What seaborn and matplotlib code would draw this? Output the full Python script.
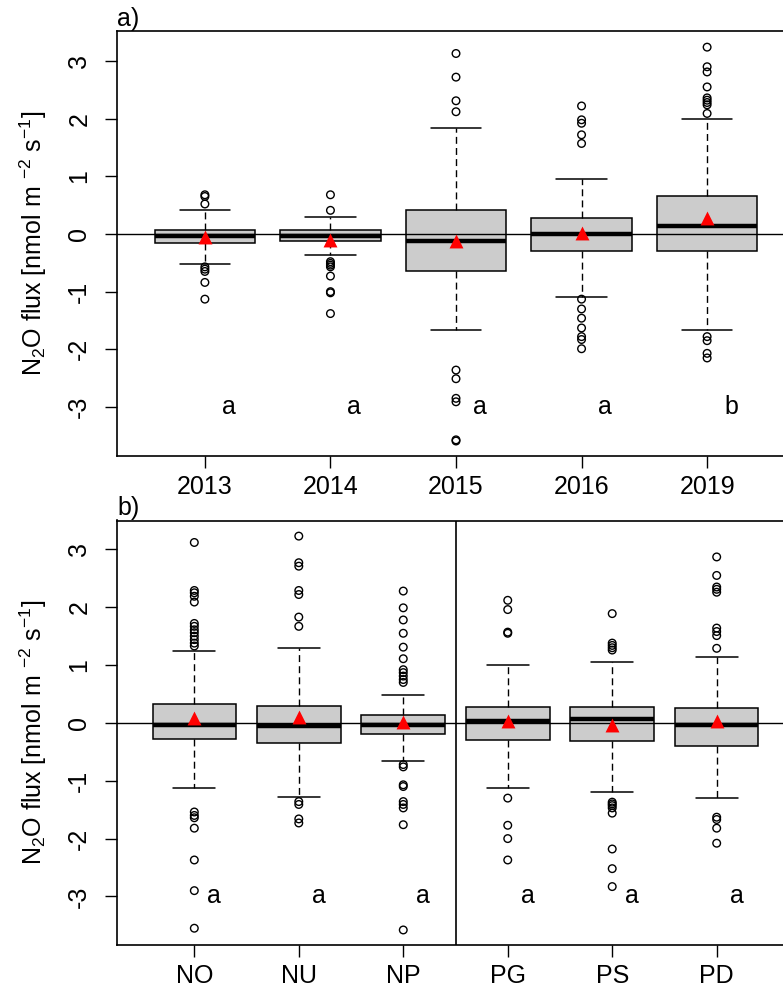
import matplotlib
matplotlib.use("Agg")
import matplotlib.pyplot as plt
import pandas as pd
import seaborn as sns

# panel a) - years
years = ["2013", "2014", "2015", "2016", "2019"]
year_q1 = [-0.16, -0.13, -0.65, -0.29, -0.29]
year_med = [-0.04, -0.03, -0.13, 0.00, 0.14]
year_q3 = [0.07, 0.07, 0.41, 0.27, 0.66]
year_wlo = [-0.525, -0.36, -1.66, -1.10, -1.66]
year_whi = [0.41, 0.30, 1.84, 0.95, 1.99]
year_mean = [-0.05, -0.10, -0.12, 0.01, 0.27]
year_letters = ["a", "a", "a", "a", "b"]
year_out = [
    [0.68, 0.65, 0.52, -0.57, -0.61, -0.65, -0.84, -1.13],
    [0.68, 0.41, -0.48, -0.51, -0.54, -0.57, -0.73, -1.00, -1.02, -1.38],
    [3.13, 2.72, 2.31, 2.12, -2.36, -2.51, -2.85, -2.91, -3.57, -3.59],
    [2.22, 1.98, 1.92, 1.72, 1.57, -1.13, -1.30, -1.46, -1.63, -1.78, -1.83, -1.99],
    [3.24, 2.90, 2.81, 2.55, 2.36, 2.32, 2.28, 2.24, 2.09, -1.78, -1.85, -2.07, -2.15],
]

# panel b) - treatments
treats = ["NO", "NU", "NP", "PG", "PS", "PD"]
tr_q1 = [-0.27, -0.35, -0.19, -0.29, -0.32, -0.40]
tr_med = [-0.04, -0.05, -0.04, 0.03, 0.07, -0.04]
tr_q3 = [0.33, 0.30, 0.14, 0.28, 0.28, 0.25]
tr_wlo = [-1.12, -1.28, -0.65, -1.12, -1.19, -1.30]
tr_whi = [1.24, 1.29, 0.49, 1.01, 1.06, 1.14]
tr_mean = [0.08, 0.11, 0.01, 0.04, -0.03, 0.03]
tr_letters = ["a", "a", "a", "a", "a", "a"]
tr_out = [
    [3.12, 2.29, 2.25, 2.19, 2.09, 1.72, 1.67, 1.61, 1.56, 1.50, 1.44, 1.38, 1.33,
     -1.54, -1.60, -1.64, -1.82, -2.37, -2.90, -3.55],
    [3.23, 2.77, 2.71, 2.29, 2.22, 1.83, 1.67, -1.36, -1.41, -1.66, -1.73],
    [2.28, 1.99, 1.78, 1.55, 1.31, 1.11, 0.92, 0.87, 0.81, 0.75, 0.70,
     -0.72, -0.76, -1.07, -1.10, -1.36, -1.41, -1.47, -1.76, -3.58],
    [2.12, 1.96, 1.57, 1.55, -1.30, -1.77, -2.00, -2.37],
    [1.89, 1.38, 1.34, 1.30, 1.26, -1.37, -1.40, -1.43, -1.47, -1.56, -2.18, -2.52, -2.83],
    [2.87, 2.55, 2.35, 2.31, 2.26, 1.64, 1.58, 1.51, 1.29, -1.63, -1.67, -1.82, -2.08],
]

sns.set_style("ticks")
plt.rcParams["font.family"] = ["Liberation Sans", "DejaVu Sans"]
plt.rcParams["mathtext.fontset"] = "custom"
plt.rcParams["mathtext.rm"] = "Liberation Sans"
plt.rcParams["mathtext.it"] = "Liberation Sans:italic"
plt.rcParams["mathtext.default"] = "rm"
for key in ["text.color", "axes.labelcolor", "xtick.color", "ytick.color", "axes.edgecolor"]:
    plt.rcParams[key] = "black"

FS = 18
W, H = 783, 993
fig = plt.figure(figsize=(W / 100, H / 100), dpi=100)
ax_a = fig.add_axes([117 / W, 1 - 456 / H, 678 / W, 425 / H])
ax_b = fig.add_axes([117 / W, 1 - 945 / H, 677 / W, 424.5 / H])


def draw_panel(ax, labels, q1, med, q3, wlo, whi, means, outs, letters):
    n = len(labels)
    stats = [dict(q1=q1[i], med=med[i], q3=q3[i], whislo=wlo[i], whishi=whi[i], fliers=[])
             for i in range(n)]
    ax.bxp(stats, positions=range(n), widths=0.8, capwidths=0.4, patch_artist=True,
           showfliers=False,
           boxprops=dict(facecolor="#cccccc", edgecolor="black", linewidth=1.1),
           medianprops=dict(color="black", linewidth=3.2, solid_capstyle="butt"),
           whiskerprops=dict(color="black", linewidth=1.0, linestyle=(0, (5, 3))),
           capprops=dict(color="black", linewidth=1.1))
    ax.axhline(0, color="black", linewidth=1.0, zorder=3)

    out_df = pd.DataFrame([(i, v) for i, vals in enumerate(outs) for v in vals],
                          columns=["pos", "value"])
    sns.scatterplot(data=out_df, x="pos", y="value", ax=ax, marker="o", s=30,
                    color="none", edgecolor="black", linewidth=1.0, zorder=4)
    mean_df = pd.DataFrame({"pos": range(n), "value": means})
    sns.scatterplot(data=mean_df, x="pos", y="value", ax=ax, marker="^", s=100,
                    color="red", edgecolor="red", linewidth=0, zorder=5)
    for i, letter in enumerate(letters):
        ax.text(i + 0.19, -3.0, letter, ha="center", va="center", fontsize=FS)

    ax.set_xlim(-0.7 - 0.04 * (n - 5), n - 0.3 + 0.04 * (n - 5))
    ax.set_xticks(range(n))
    ax.set_xticklabels(labels)
    ax.set_yticks([-3, -2, -1, 0, 1, 2, 3])
    ax.set_yticklabels(["-3", "-2", "-1", "0", "1", "2", "3"])
    ax.set_xlabel("")
    ax.set_ylabel(r"N$_2$O flux [nmol m $^{-2}$ s$^{-1}$]", fontsize=FS)
    ax.yaxis.set_label_coords(-0.100, 0.5)
    ax.tick_params(axis="both", direction="out", length=8.5, width=1.0,
                   labelsize=FS, color="black", labelcolor="black")
    ax.tick_params(axis="y", labelrotation=90, pad=10)
    ax.tick_params(axis="x", pad=5)
    for lab in ax.get_yticklabels():
        lab.set_va("center")
    for sp in ax.spines.values():
        sp.set_linewidth(1.2)
        sp.set_color("black")


draw_panel(ax_a, years, year_q1, year_med, year_q3, year_wlo, year_whi,
           year_mean, year_out, year_letters)
ax_a.set_ylim(-3.85, 3.52)
ax_a.text(0, 1.0, "a)", transform=ax_a.transAxes, ha="left", va="bottom", fontsize=FS)

draw_panel(ax_b, treats, tr_q1, tr_med, tr_q3, tr_wlo, tr_whi,
           tr_mean, tr_out, tr_letters)
ax_b.set_ylim(-3.84, 3.50)
ax_b.axvline(2.5, color="black", linewidth=1.2)
ax_b.text(0, 1.0, "b)", transform=ax_b.transAxes, ha="left", va="bottom", fontsize=FS)

fig.savefig("out.png", dpi=100)
